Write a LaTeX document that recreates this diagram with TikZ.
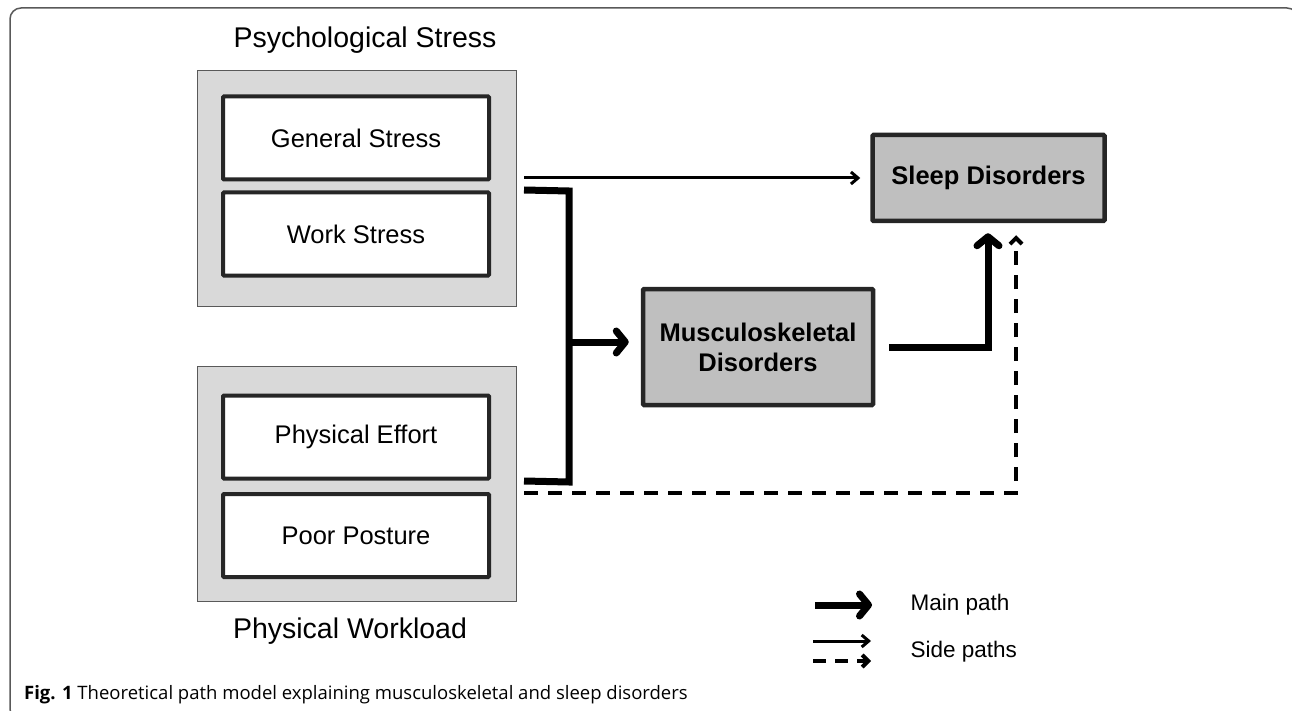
\documentclass[tikz,border=0pt]{standalone}
\usepackage{fontspec}
\setmainfont{Liberation Sans}
\newfontfamily\capfont{Open Sans}
\usetikzlibrary{arrows.meta}
\definecolor{outergray}{HTML}{D9D9D9}
\definecolor{boxgray}{HTML}{BFBFBF}
\definecolor{edgedark}{HTML}{262626}
\definecolor{edgemid}{HTML}{595959}
\tikzset{
  groupbox/.style={draw=edgemid, line width=1pt, fill=outergray, minimum width=319pt, minimum height=235pt, inner sep=0pt},
  itembox/.style={draw=edgedark, line width=4pt, fill=white, minimum width=266pt, minimum height=83pt, inner sep=0pt, rounded corners=1pt, font=\fontsize{25.5}{30}\selectfont},
  outcome/.style={draw=edgedark, line width=4.5pt, fill=boxgray, inner sep=0pt, rounded corners=1pt, font=\bfseries\fontsize{25.5}{30}\selectfont, align=center},
  grouplabel/.style={font=\fontsize{28.5}{32}\selectfont},
  mainpath/.style={line width=7pt, -{Straight Barb[length=9pt, width=22pt, round]}},
  mainline/.style={line width=7pt},
  sidepath/.style={line width=3pt, -{Straight Barb[length=7pt, width=12pt]}},
  dashpath/.style={line width=4pt, dash pattern=on 14pt off 10pt, -{Straight Barb[length=6pt, width=12pt]}},
  legendtext/.style={font=\fontsize{22.5}{26}\selectfont, anchor=west},
}
\begin{document}
\begin{tikzpicture}[x=1pt, y=-1pt]
\useasboundingbox (0,0) rectangle (1292,711);
\begin{scope}
\clip (0,0) rectangle (1292,711);
\draw[draw=edgemid, line width=1.5pt, rounded corners=11pt] (10,8) rectangle (1298,720);
\end{scope}

% groups
\node[groupbox] (psych) at (356.5,188.5) {};
\node[itembox] (gen) at (356,138) {General Stress};
\node[itembox] (work) at (356,234) {Work Stress};
\node[grouplabel] (psychlab) at (365,40) {Psychological Stress};

\node[groupbox] (phys) at (356.5,484) {};
\node[itembox] (eff) at (356,437) {Physical Effort};
\node[itembox] (post) at (356,535.5) {Poor Posture};
\node[grouplabel] (physlab) at (350,631) {Physical Workload};

% outcomes
\node[outcome, minimum width=232pt, minimum height=86pt] (sleep) at (988.5,178) {Sleep Disorders};
\node[outcome, minimum width=230pt, minimum height=116pt] (msd) at (758,347) {Musculoskeletal\\Disorders};

% connectors
\coordinate (thinstart) at (524,178);
\draw[sidepath, shorten >=10pt] (thinstart) -- (sleep.west);

\coordinate (btop) at (524,190);
\coordinate (bbot) at (524,481);
\coordinate (bmid) at (569,342);
\draw[mainline, line join=miter] (btop) -- (569,191) -- (569,482) -- (bbot);
\draw[mainpath, shorten >=12pt] (bmid) -- (msd.west |- bmid);

\coordinate (mstart) at (889,347);
\draw[mainpath, line join=miter, shorten >=10pt] (mstart) -- (988,347) -- (988,347 |- sleep.south);

\coordinate (dstart) at (524,493);
\draw[dashpath, shorten >=12pt] (dstart) -- (1016,493) -- (1016,493 |- sleep.south);

% legend
\coordinate (l1a) at (815,605);
\coordinate (l1b) at (872,605);
\draw[mainpath, line cap=butt] (l1a) -- (l1b);
\node[legendtext] (lmain) at (907,605) {Main path};
\coordinate (l2a) at (813,641);
\coordinate (l2b) at (871,641);
\draw[sidepath] (l2a) -- (l2b);
\coordinate (l3a) at (813,661);
\coordinate (l3b) at (871,661);
\draw[line width=4pt, dash pattern=on 13pt off 9pt, -{Straight Barb[length=6pt, width=12pt]}] (l3a) -- (l3b);
\node[legendtext] (lside) at (907,652) {Side paths};

% caption
\node[anchor=base west, inner sep=0pt, font=\capfont\fontsize{18.5}{21}\selectfont] (cap) at (24,699) {\textbf{Fig. 1} Theoretical path model explaining musculoskeletal and sleep disorders};
\end{tikzpicture}
\end{document}
